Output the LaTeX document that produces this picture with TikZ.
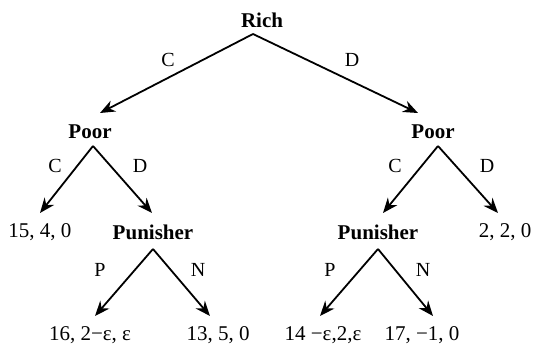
\documentclass[tikz,border=0pt]{standalone}
\usepackage{fontspec}
\setmainfont{Liberation Serif}
\usetikzlibrary{arrows.meta}
\begin{document}
\begin{tikzpicture}[x=1pt,y=-1pt,
  lab/.style={font=\fontsize{21}{24}\selectfont, inner sep=0pt},
  player/.style={inner sep=0pt, font=\fontsize{21}{24}\selectfont\bfseries},
  act/.style={font=\fontsize{20}{24}\selectfont, inner sep=0pt},
  arr/.style={line width=1.8pt, -{Stealth[length=15pt,width=12pt]}}]
\useasboundingbox (0,0) rectangle (533,350);
% players
\node[player] (rich) at (262,20) {Rich};
\node[player] (poorL) at (90,132) {Poor};
\node[player] (poorR) at (433,132) {Poor};
\node[player] (punL) at (153,232) {Punisher};
\node[player] (punR) at (378,232) {Punisher};
% payoffs
\node[lab] (o1) at (40,232) {15, 4, 0};
\node[lab] (o2) at (505,232) {2, 2, 0};
\node[lab] (o3) at (90,335) {16, 2−ε, ε};
\node[lab] (o4) at (218,335) {13, 5, 0};
\node[lab] (o5) at (323,335) {14 −ε,2,ε};
\node[lab] (o6) at (422,335) {17, −1, 0};
% action labels
\node[act] (a1) at (168,60) {C};
\node[act] (a2) at (352,60) {D};
\node[act] (a3) at (55,166) {C};
\node[act] (a4) at (140,166) {D};
\node[act] (a5) at (395,166) {C};
\node[act] (a6) at (487,166) {D};
\node[act] (a7) at (100,270) {P};
\node[act] (a8) at (198,270) {N};
\node[act] (a9) at (330,270) {P};
\node[act] (a10) at (423,270) {N};
% connectors
\draw[arr] ([xshift=-9pt,yshift=-14pt]rich.center) -- ([xshift=10pt,yshift=19pt]poorL.center);
\draw[arr] ([xshift=-9pt,yshift=-14pt]rich.center) -- ([xshift=-15pt,yshift=19pt]poorR.center);
\draw[arr] ([xshift=3pt,yshift=-14pt]poorL.center) -- ([yshift=19pt]o1.center);
\draw[arr] ([xshift=3pt,yshift=-14pt]poorL.center) -- ([xshift=-1pt,yshift=19pt]punL.center);
\draw[arr] ([xshift=5pt,yshift=-14pt]poorR.center) -- ([xshift=5pt,yshift=19pt]punR.center);
\draw[arr] ([xshift=5pt,yshift=-14pt]poorR.center) -- ([xshift=-7pt,yshift=19pt]o2.center);
\draw[arr] ([yshift=-17pt]punL.center) -- ([xshift=5pt,yshift=19pt]o3.center);
\draw[arr] ([yshift=-17pt]punL.center) -- ([xshift=-8pt,yshift=19pt]o4.center);
\draw[arr] ([yshift=-17pt]punR.center) -- ([xshift=-3pt,yshift=19pt]o5.center);
\draw[arr] ([yshift=-17pt]punR.center) -- ([xshift=11pt,yshift=19pt]o6.center);
\end{tikzpicture}
\end{document}
